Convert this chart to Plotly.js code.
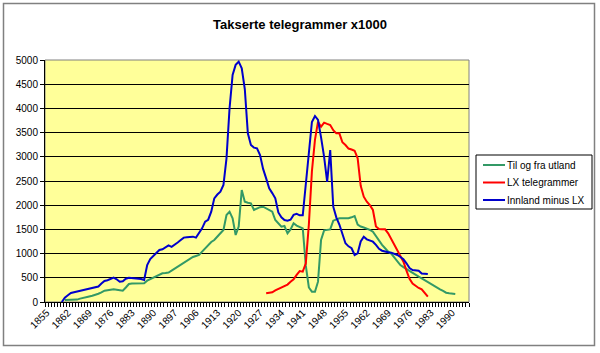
<!DOCTYPE html>
<html>
<head>
<meta charset="utf-8">
<script src="https://cdn.plot.ly/plotly-3.0.1.min.js"></script>
<style>
html,body{margin:0;padding:0;background:#fff;}
#chart{width:600px;height:353px;}
</style>
</head>
<body>
<div id="chart"></div>
<script>
// Category axis (years; 1898-1899 absent in the source)
const years = [
1855,1856,1857,1858,1859,1860,1861,1862,1863,1864,1865,1866,1867,1868,1869,1870,1871,1872,1873,1874,
1875,1876,1877,1878,1879,1880,1881,1882,1883,1884,1885,1886,1887,1888,1889,1890,1891,1892,1893,1894,
1895,1896,1897,1900,1901,1902,1903,1904,1905,1906,1907,1908,1909,1910,1911,1912,1913,1914,1915,1916,
1917,1918,1919,1920,1921,1922,1923,1924,1925,1926,1927,1928,1929,1930,1931,1932,1933,1934,1935,1936,
1937,1938,1939,1940,1941,1942,1943,1944,1945,1946,1947,1948,1949,1950,1951,1952,1953,1954,1955,1956,
1957,1958,1959,1960,1961,1962,1963,1964,1965,1966,1967,1968,1969,1970,1971,1972,1973,1974,1975,1976,
1977,1978,1979,1980,1981,1982,1983,1984,1985,1986,1987,1988,1989,1990,1991,1992,1993,1994,1995
];
const tickLabels = [1855,1862,1869,1876,1883,1890,1897,1906,1913,1920,1927,1934,1941,1948,1955,1962,1969,1976,1983,1990];

const seriesNames = ['Til og fra utland', 'LX telegrammer', 'Innland minus LX'];
const seriesColors = ['#339966', '#FF0000', '#0000CC'];

// Til og fra utland : 1861 .. 1991
const utlandStart = 1861;
const utland = [
40,40,42,45,50,70,90,105,115,130,145,170,200,234,245,255,262,255,240,234,
300,372,380,385,385,386,386,441,470,500,530,560,593,600,610,650,690,
730,764,810,860,902,930,950,971,1040,1109,1180,1240,1281,1360,1420,1488,1797,1866,1729,1384,
1560,2314,2073,2050,2039,1901,1930,1960,1969,1940,1900,1866,1694,1620,1556,1570,1420,1500,1626,1580,
1556,1520,750,300,213,213,420,1281,1480,1488,1500,1680,1700,1729,1729,1729,1729,1750,1777,1600,
1560,1540,1522,1490,1453,1360,1260,1180,1110,1040,1000,920,840,764,720,680,626,590,560,523,
490,450,420,380,330,300,262,230,192,180,170,165
];

// LX telegrammer : 1929 .. 1982
const lxStart = 1929;
const lx = [
180,190,200,240,270,300,330,360,420,469,560,640,626,800,1600,2700,3350,3725,3622,3705,
3680,3657,3550,3485,3485,3300,3244,3170,3150,3126,2969,2400,2176,2073,2000,1901,1560,1510,1502,1502,
1420,1300,1200,1074,950,833,650,480,380,330,290,262,180,110
];

// Innland minus LX : 1860 .. 1982
const innlandStart = 1860;
const innland = [
0,90,140,185,200,215,225,240,255,265,275,290,320,380,434,450,480,502,470,420,
430,480,500,495,490,485,475,455,764,888,950,1000,1074,1090,1130,1170,1140,1180,
1230,1280,1330,1340,1350,1350,1330,1420,1522,1660,1700,1866,2142,2220,2280,2417,2969,4002,4690,4900,
4965,4828,4400,3485,3244,3190,3175,3037,2750,2555,2349,2250,2142,1850,1750,1694,1680,1700,1800,1820,
1790,1790,2450,3200,3720,3843,3760,3400,3000,2480,3140,1969,1750,1600,1400,1213,1150,1110,971,1006,
1250,1350,1295,1270,1246,1180,1100,1060,1040,1030,1019,1000,971,930,882,800,700,661,655,647,
590,578,578
];

const cats = years.map(String);
function xsFrom(start, vals){
  const i0 = years.indexOf(start);
  return cats.slice(i0, i0 + vals.length);
}

const seriesData = [[utlandStart, utland], [lxStart, lx], [innlandStart, innland]];
const traces = seriesData.map((d, i) => ({
  name: seriesNames[i], x: xsFrom(d[0], d[1]), y: d[1], type: 'scatter', mode: 'lines',
  line: {color: seriesColors[i], width: 2}, showlegend: false
}));

const tickText = cats.map(c => tickLabels.includes(+c) ? c : '');

// plot area in px: x 45..469, y 60..302
const L = 45, R = 469, T = 60, B = 302, W = 600, H = 353;
const px = v => (v - L) / (R - L);
const py = v => (B - v) / (B - T);

// Legend drawn as a framed box (Excel style)
const legBox = {x0: 476, x1: 592, y0: 155, y1: 209};
const legRowY = [165, 182.5, 200];
const shapes = [
  {type: 'rect', xref: 'paper', yref: 'paper', x0: 0, x1: 1, y0: 0, y1: 1,
   line: {color: '#808080', width: 1}, layer: 'below'},
  {type: 'rect', xref: 'paper', yref: 'paper', x0: px(3.5), x1: px(594.5), y0: py(345.5), y1: py(3.5),
   line: {color: '#808080', width: 1.5}, layer: 'below'},
  {type: 'rect', xref: 'paper', yref: 'paper', x0: px(legBox.x0), x1: px(legBox.x1),
   y0: py(legBox.y1), y1: py(legBox.y0), line: {color: '#000', width: 1}, fillcolor: '#fff'}
];
const annotations = [];
seriesNames.forEach((n, i) => {
  shapes.push({type: 'line', xref: 'paper', yref: 'paper', x0: px(483), x1: px(505),
               y0: py(legRowY[i]), y1: py(legRowY[i]), line: {color: seriesColors[i], width: 2}});
  annotations.push({text: n, xref: 'paper', yref: 'paper', x: px(505), y: py(legRowY[i]),
                    xanchor: 'left', yanchor: 'middle', showarrow: false,
                    font: {size: 10, color: '#000'}});
});

const layout = {
  width: W, height: H,
  margin: {l: L, r: W - R, t: T, b: H - B, pad: 0},
  paper_bgcolor: '#ffffff',
  plot_bgcolor: '#FFFF99',
  font: {family: 'Liberation Sans, Arial, sans-serif', size: 10, color: '#000'},
  title: {text: '<b>Takserte telegrammer x1000</b>', font: {size: 13, color: '#000'},
          xref: 'container', x: 0.5, xanchor: 'center', yref: 'container', y: 1 - 24/H, yanchor: 'middle'},
  showlegend: false,
  xaxis: {type: 'category', categoryorder: 'array', categoryarray: cats,
          range: [-0.5, cats.length - 0.5],
          tickmode: 'array', tickvals: cats, ticktext: tickText, tickson: 'boundaries',
          ticks: 'outside', ticklen: 4, tickcolor: '#000', tickwidth: 1,
          tickangle: -45, tickfont: {size: 10},
          showline: true, linecolor: '#000', linewidth: 1, showgrid: false, zeroline: false,
          fixedrange: true},
  yaxis: {range: [0, 5000], dtick: 500, tick0: 0,
          ticks: 'outside', ticklen: 4, tickcolor: '#000',
          showline: true, linecolor: '#000', linewidth: 1,
          showgrid: true, gridcolor: '#000', gridwidth: 1, zeroline: false,
          tickfont: {size: 10}, fixedrange: true},
  shapes: shapes,
  annotations: annotations
};

Plotly.newPlot('chart', traces, layout, {displayModeBar: false, staticPlot: true});
</script>
</body>
</html>
